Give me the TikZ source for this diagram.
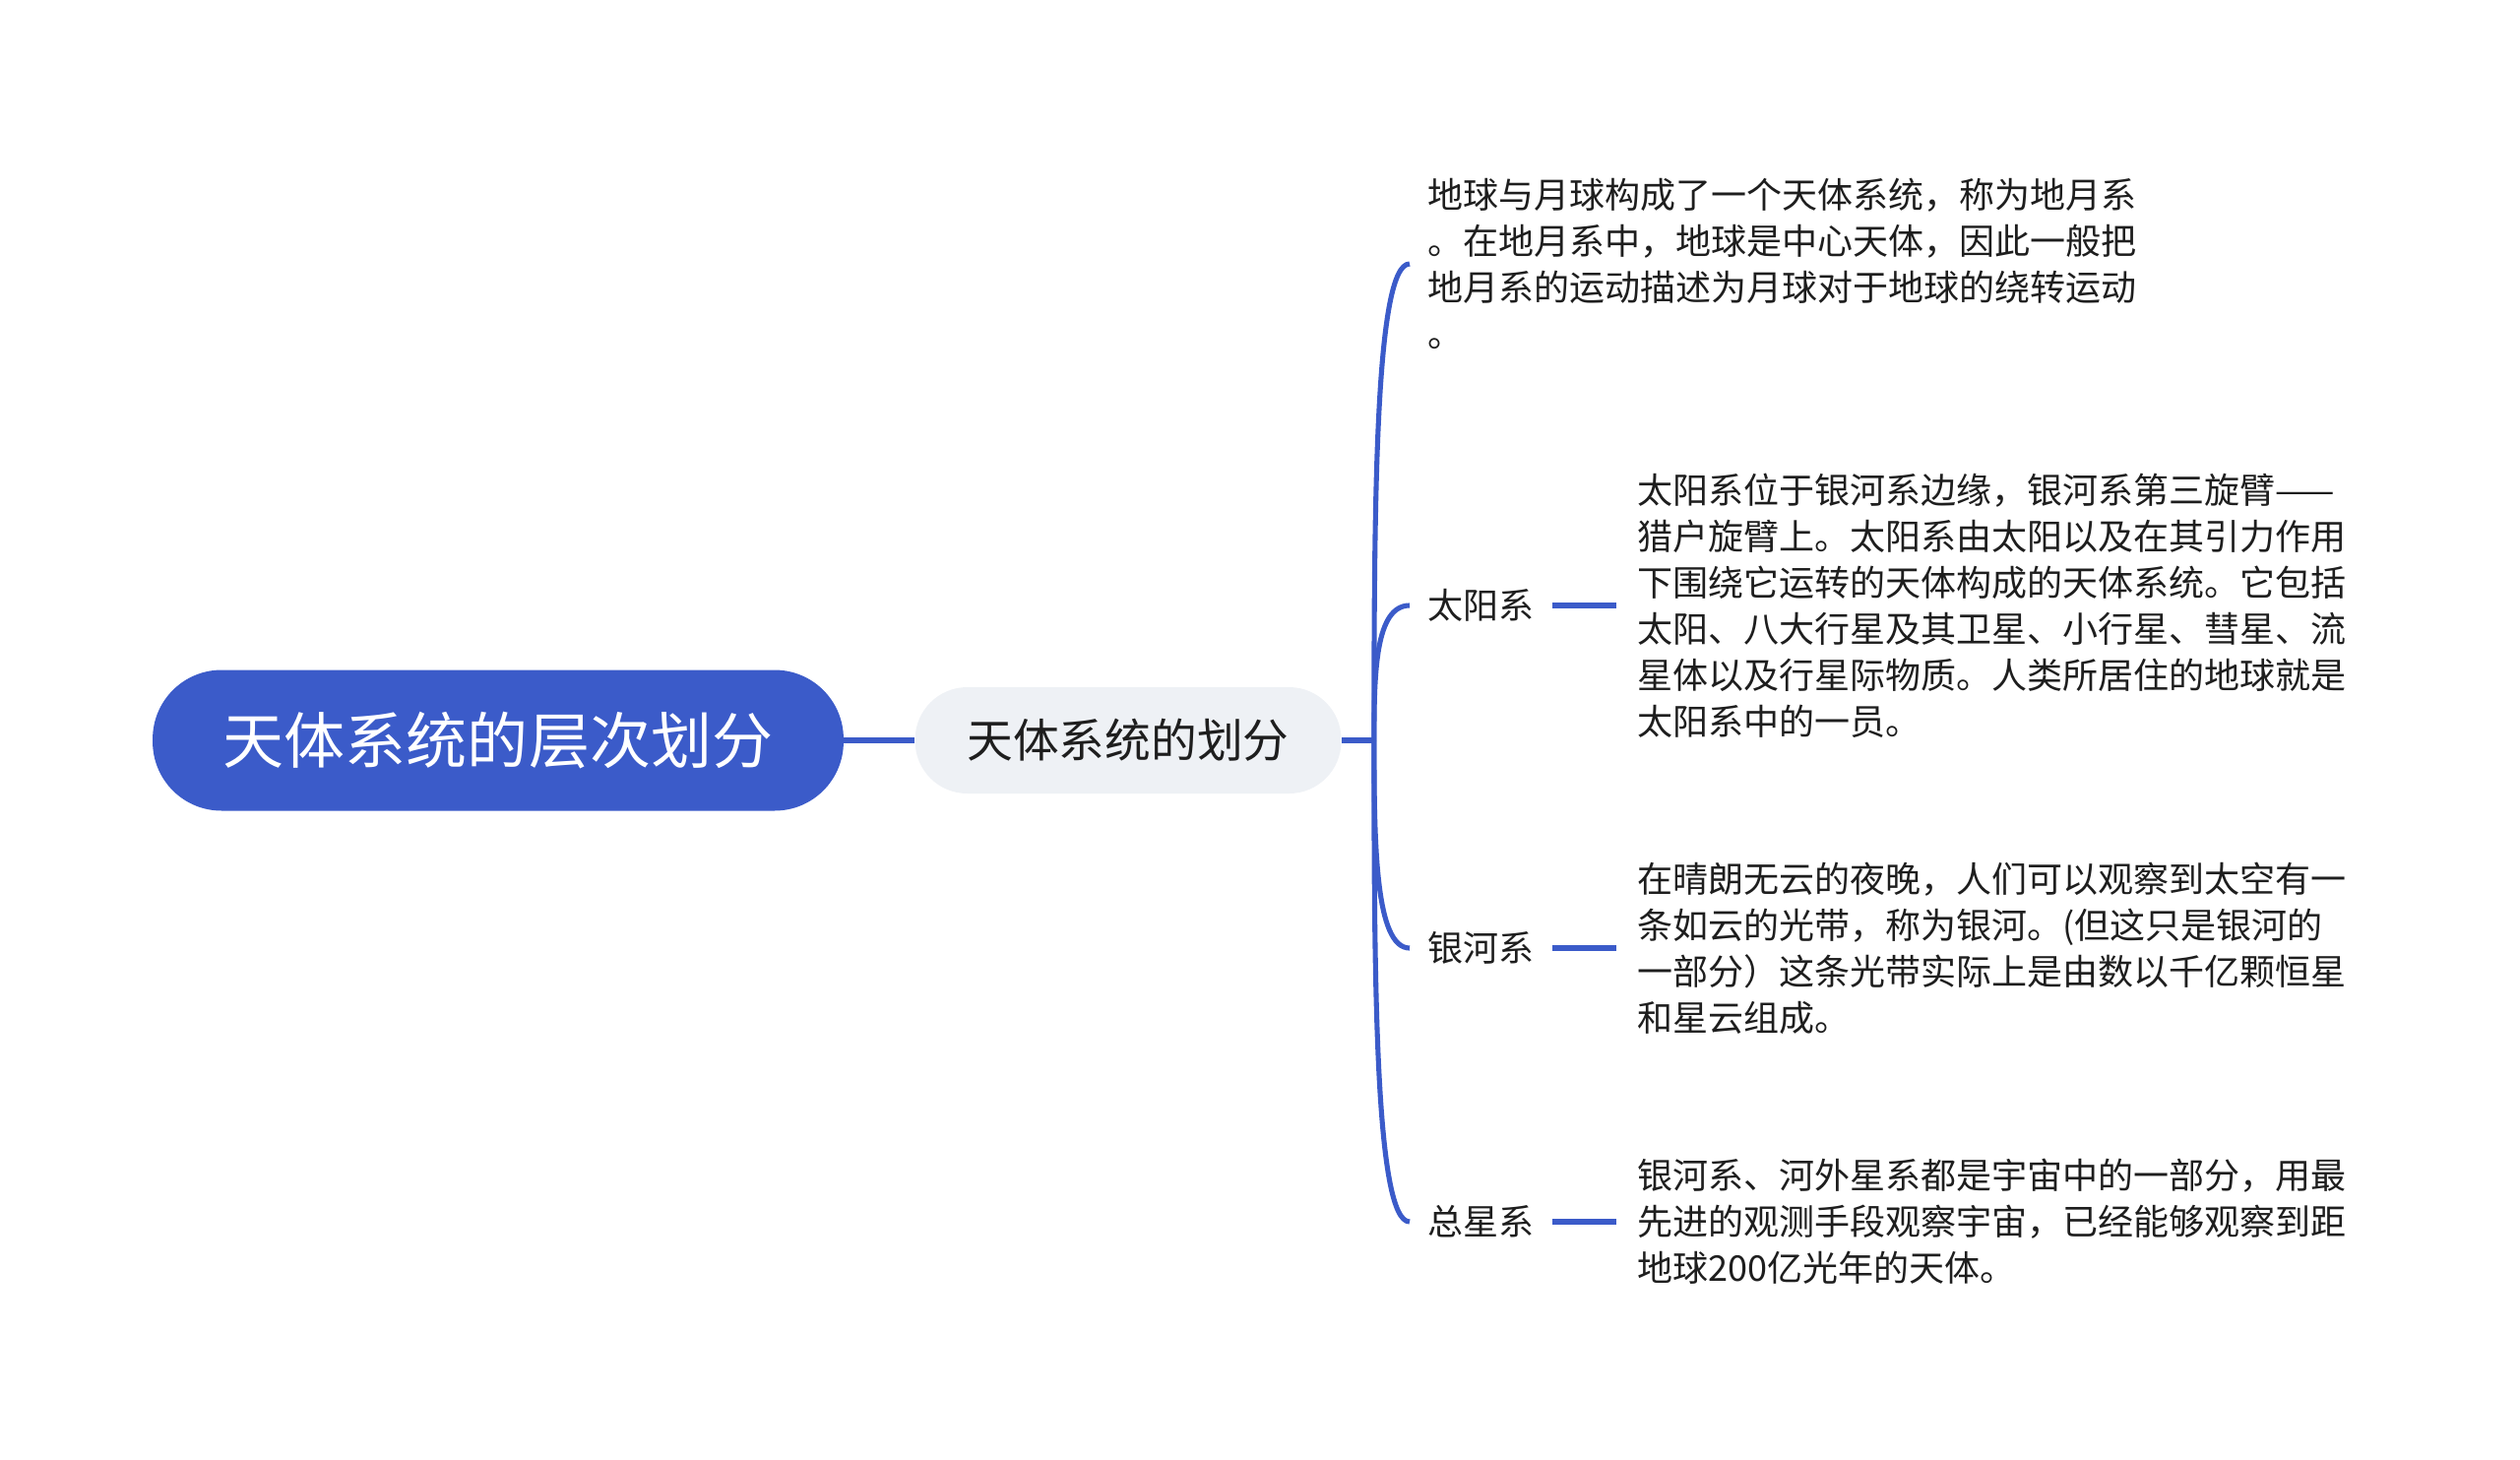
\documentclass[tikz,border=0pt]{standalone}
\usepackage{fontspec}
\setmainfont{Noto Sans CJK SC}
\usetikzlibrary{positioning}
\definecolor{mapblue}{RGB}{59,91,201}
\definecolor{topicgray}{RGB}{238,241,245}
\definecolor{ink}{RGB}{30,30,30}

\begin{document}
\begin{tikzpicture}[x=0.02cm, y=-0.02cm,
    root/.style={fill=mapblue, text=white, rounded corners=1.4cm, minimum width=14.04cm, minimum height=2.86cm, font=\fontsize{35.3pt}{40pt}\selectfont},
    topic/.style={fill=topicgray, text=ink, rounded corners=1.06cm, minimum width=8.66cm, minimum height=2.16cm, font=\fontsize{26.6pt}{30pt}\selectfont},
    lbl/.style={text=ink, inner xsep=0.36cm, inner ysep=0pt, font=\fontsize{20.5pt}{26.7pt}\selectfont},
    para/.style={text=ink, align=left, inner xsep=0.42cm, inner ysep=0pt, font=\fontsize{20.5pt}{26.7pt}\selectfont},
    link/.style={draw=mapblue, line width=2.9pt}]
  \useasboundingbox (0,0) rectangle (2560,1482);

  \node[root] (root) at (506,752) {天体系统的层次划分};
  \node[topic, right=1.44cm of root] (topic) {天体系统的划分};
  \coordinate[right=0.66cm of topic] (hub);

  % branches
  \node[para, inner xsep=0.36cm, anchor=west] (moon) at (1432,268) {地球与月球构成了一个天体系统，称为地月系\\。在地月系中，地球是中心天体，因此一般把\\地月系的运动描述为月球对于地球的绕转运动\\。};
  \node[lbl, anchor=west] (sun) at (1432,615) {太阳系};
  \node[para, right=1.3cm of sun] (sunpara) {太阳系位于银河系边缘，银河系第三旋臂——\\猎户旋臂上。太阳系由太阳以及在其引力作用\\下围绕它运转的天体构成的天体系统。它包括\\太阳、八大行星及其卫星、小行星、彗星、流\\星体以及行星际物质。人类所居住的地球就是\\太阳系中的一员。};
  \node[lbl, anchor=west] (galaxy) at (1432,963) {银河系};
  \node[para, right=1.3cm of galaxy] (galaxypara) {在晴朗无云的夜晚，人们可以观察到太空有一\\条如云的光带，称为银河。(但这只是银河的\\一部分）这条光带实际上是由数以千亿颗恒星\\和星云组成。};
  \node[lbl, anchor=west] (cosmos) at (1432,1241) {总星系};
  \node[para, right=1.3cm of cosmos] (cosmospara) {银河系、河外星系都是宇宙中的一部分，用最\\先进的观测手段观察宇宙，已经能够观察到距\\地球200亿光年的天体。};

  \draw[link] (root) -- (topic);
  \draw[link] (topic) -- (hub);
  \draw[link] (hub) .. controls +(0,-242) and +(-35,0) .. (moon.west);
  \draw[link] (hub) .. controls +(0,-68) and +(-35,0) .. (sun.west);
  \draw[link] (hub) .. controls +(0,105) and +(-35,0) .. (galaxy.west);
  \draw[link] (hub) .. controls +(0,245) and +(-35,0) .. (cosmos.west);
  \draw[link] (sun) -- (sunpara);
  \draw[link] (galaxy) -- (galaxypara);
  \draw[link] (cosmos) -- (cosmospara);
\end{tikzpicture}
\end{document}
